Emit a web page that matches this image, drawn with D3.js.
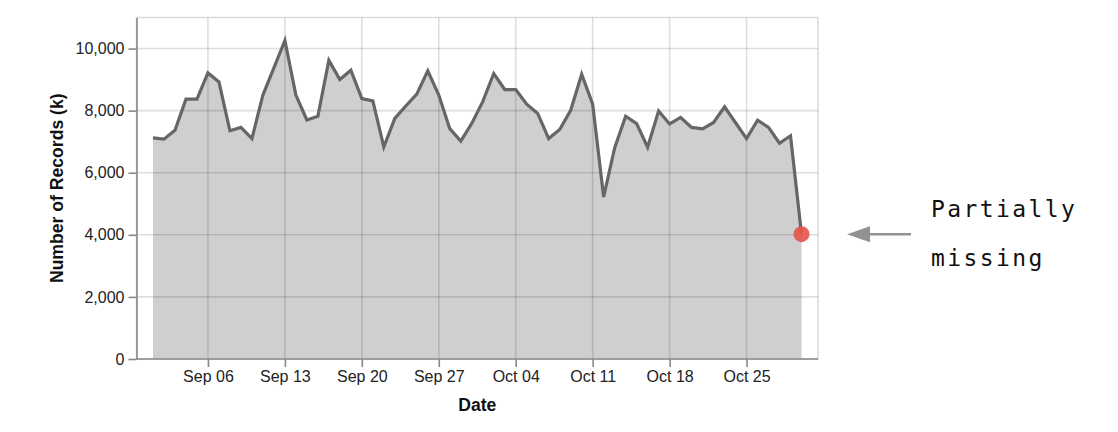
<!DOCTYPE html>
<html>
<head>
<meta charset="utf-8">
<script src="https://cdn.jsdelivr.net/npm/d3@7"></script>
<style>
  html, body { margin: 0; padding: 0; background: #fff; }
  svg { display: block; }
</style>
</head>
<body>
<svg id="chart" width="1118" height="432"></svg>
<script>
// ---- data ----
const startDate = "2020-09-01";
const records = [
  7120, 7080, 7370, 8370, 8370, 9215, 8925, 7350, 7460, 7100,
  8500, 9380, 10260, 8500, 7700, 7820, 9620, 9000, 9300, 8390,
  8315, 6830, 7750, 8150, 8530, 9280, 8500, 7420, 7020, 7590,
  8290, 9195, 8680, 8680, 8210, 7910, 7100, 7390, 8010, 9170,
  8210, 5220, 6800, 7820, 7580, 6820, 7990, 7570, 7780, 7460,
  7415, 7620, 8120, 7610, 7100, 7690, 7460, 6950, 7190, 4020
];
const yTicks = [0, 2000, 4000, 6000, 8000, 10000];
const xTickDates = ["2020-09-06","2020-09-13","2020-09-20","2020-09-27","2020-10-04","2020-10-11","2020-10-18","2020-10-25"];
const xTitle = "Date";
const yTitle = "Number of Records (k)";
const noteLines = ["Partially", "missing"];

const parse = d3.utcParse("%Y-%m-%d");
const t0 = parse(startDate);
const data = records.map((v, i) => ({ date: d3.utcDay.offset(t0, i), value: v }));

// ---- layout ----
const L = 136.5, R = 818, T = 17.5, B = 359;
const svg = d3.select("#chart");

const x = d3.scaleUtc()
  .domain([new Date(Date.UTC(2020, 7, 30, 12)), new Date(Date.UTC(2020, 9, 31, 12))])
  .range([L, R]);
const y = d3.scaleLinear().domain([0, 11000]).range([B, T]);

// plot frame
svg.append("rect")
  .attr("x", L).attr("y", T).attr("width", R - L).attr("height", B - T)
  .attr("fill", "none").attr("stroke", "#ddd").attr("stroke-width", 1.6);

// area
svg.append("path")
  .datum(data)
  .attr("fill", "#cfcfcf")
  .attr("d", d3.area().x(d => x(d.date)).y0(y(0)).y1(d => y(d.value)));

// grid (on top of the area)
const grid = svg.append("g").attr("stroke", "#000").attr("stroke-opacity", 0.13).attr("stroke-width", 1.6);
xTickDates.forEach(s => {
  const xx = x(parse(s));
  grid.append("line").attr("x1", xx).attr("x2", xx).attr("y1", T).attr("y2", B);
});
yTicks.forEach(v => {
  if (v === 0) return;
  grid.append("line").attr("x1", L).attr("x2", R).attr("y1", y(v)).attr("y2", y(v));
});

// line
svg.append("path")
  .datum(data)
  .attr("fill", "none")
  .attr("stroke", "#666")
  .attr("stroke-width", 3.2)
  .attr("stroke-linejoin", "miter")
  .attr("d", d3.line().x(d => x(d.date)).y(d => y(d.value)));

// last point
const last = data[data.length - 1];
svg.append("circle")
  .attr("cx", x(last.date)).attr("cy", y(last.value)).attr("r", 8)
  .attr("fill", "#e4574c").attr("fill-opacity", 0.92);

// axes
const font = "'Liberation Sans', Arial, Helvetica, sans-serif";
const xAxis = svg.append("g")
  .attr("transform", `translate(0,${B})`)
  .call(d3.axisBottom(x)
    .tickValues(xTickDates.map(parse))
    .tickFormat(d3.utcFormat("%b %d"))
    .tickSizeInner(8).tickSizeOuter(0).tickPadding(4));
const yAxis = svg.append("g")
  .attr("transform", `translate(${L},0)`)
  .call(d3.axisLeft(y)
    .tickValues(yTicks)
    .tickFormat(d3.format(","))
    .tickSizeInner(8).tickSizeOuter(0).tickPadding(4));
[xAxis, yAxis].forEach(g => {
  g.select(".domain").attr("stroke", "#888").attr("stroke-width", 1.6);
  g.selectAll(".tick line").attr("stroke", "#888").attr("stroke-width", 1.6);
  g.selectAll(".tick text").attr("fill", "#222").style("font-family", font).style("font-size", "16px");
});
xAxis.select(".domain").attr("d", `M${L},0H${R}`);

// titles
svg.append("text")
  .attr("x", (L + R) / 2).attr("y", 411)
  .attr("text-anchor", "middle")
  .style("font-family", font).style("font-size", "17.6px").style("font-weight", "bold")
  .attr("fill", "#111")
  .text(xTitle);
svg.append("text")
  .attr("transform", `translate(63,${(T + B) / 2}) rotate(-90)`)
  .attr("text-anchor", "middle")
  .style("font-family", font).style("font-size", "17.6px").style("font-weight", "bold")
  .attr("fill", "#111")
  .text(yTitle);

// annotation arrow
const ay = y(last.value);
svg.append("line")
  .attr("x1", 911).attr("x2", 866).attr("y1", ay).attr("y2", ay)
  .attr("stroke", "#929292").attr("stroke-width", 2.4);
svg.append("path")
  .attr("d", `M847,${ay} L870,${ay - 8} L870,${ay + 8} Z`)
  .attr("fill", "#929292");

// annotation text
noteLines.forEach((s, i) => {
  svg.append("text")
    .attr("x", 931).attr("y", 217 + i * 49)
    .style("font-family", "'DejaVu Sans Mono', 'Liberation Mono', monospace")
    .style("font-size", "23px")
    .style("letter-spacing", "2.4px")
    .attr("fill", "#111")
    .text(s);
});
</script>
</body>
</html>
